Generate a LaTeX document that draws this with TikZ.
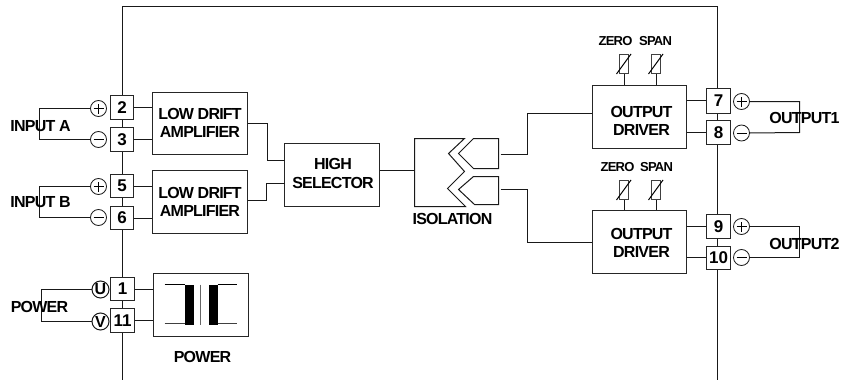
\documentclass[tikz,border=0pt]{standalone}
\usepackage{fontspec}
\setmainfont{Liberation Sans}
\newfontfamily\tightb{Liberation Sans}[LetterSpace=-4.8]
\newfontfamily\tightc{Liberation Sans}[LetterSpace=-6]
\tikzset{
  wire/.style={draw=black!90,line width=1pt},
  blockbox/.style={draw=black!85,line width=1pt,fill=white,inner sep=0pt},
  termbox/.style={draw=black!85,line width=1pt,fill=white,inner sep=0pt,font=\fontsize{17}{17}\selectfont\bfseries},
  polar/.style={circle,draw=black!90,line width=0.8pt,fill=white,inner sep=0pt,minimum size=16pt},
  polarb/.style={polar,minimum size=17pt,line width=1pt,font=\fontsize{16}{16}\tightc\selectfont\bfseries},
  lab/.style={inner sep=0pt,align=center,font=\fontsize{16}{18.5}\tightb\selectfont\bfseries},
  small/.style={inner sep=0pt,font=\fontsize{13}{13}\tightc\selectfont\bfseries},
}
\newcommand{\blk}[5]{\node[blockbox,minimum width=#3 pt-#2 pt,minimum height=#5 pt-#4 pt] (#1) at ({(#2+#3)/2},{(#4+#5)/2}) {};}
\newcommand{\trm}[6]{\node[termbox,minimum width=#4 pt-#3 pt,minimum height=#6 pt-#5 pt] (#1) at ({(#3+#4)/2},{(#5+#6)/2}) {#2};}
\begin{document}
\begin{tikzpicture}[x=1pt,y=-1pt]
\useasboundingbox (0,0) rectangle (844,380);
\begin{scope}[shift={(0.5,0.5)}]
\coordinate (fbl) at (122,380); \coordinate (ftl) at (122,6);
\coordinate (ftr) at (717,6); \coordinate (fbr) at (717,380);
\draw[wire] (fbl) -- (ftl) -- (ftr) -- (fbr);
% terminals
\trm{t2}{2}{110}{133}{95}{119}
\trm{t3}{3}{110}{133}{127}{151}
\trm{t5}{5}{110}{133}{174}{197}
\trm{t6}{6}{110}{133}{206}{229}
\trm{t1}{1}{110}{134}{277}{300}
\trm{t11}{11}{110}{134}{308}{332}
\trm{t7}{7}{706}{730}{88}{113}
\trm{t8}{8}{706}{730}{120}{144}
\trm{t9}{9}{706}{730}{214}{238}
\trm{t10}{10}{706}{730}{246}{269}
% blocks
\blk{amp1}{152}{247}{92}{154}
\blk{amp2}{152}{247}{170}{233}
\blk{sel}{284}{379}{143}{206}
\blk{drv1}{592}{686}{85}{148}
\blk{drv2}{592}{686}{210}{273}
\blk{pwr}{153}{248}{273}{336}
% polarity circles
\node[polar] (ip1) at (98,108) {}; \node[polar] (im1) at (98,139) {};
\node[polar] (ip2) at (98,186) {}; \node[polar] (im2) at (98,217) {};
\node[polar] (op1) at (741,101) {}; \node[polar] (om1) at (741,132.5) {};
\node[polar] (op2) at (741,226) {}; \node[polar] (om2) at (741,257) {};
\foreach \n in {ip1,ip2,op1,op2} {
  \draw[line width=0.6pt] ([xshift=-5pt]\n.center) -- ([xshift=5pt]\n.center);
  \draw[line width=0.6pt] ([yshift=-5pt]\n.center) -- ([yshift=5pt]\n.center);}
\foreach \n in {im1,im2,om1,om2} {
  \draw[line width=0.6pt] ([xshift=-5pt]\n.center) -- ([xshift=5pt]\n.center);}
\node[polarb] (pu) at (100,289) {U};
\node[polarb] (pv) at (100,321) {V};
% bracket corners
\coordinate (b1a) at (39,108); \coordinate (b1b) at (39,139);
\coordinate (b2a) at (39,186); \coordinate (b2b) at (39,217);
\coordinate (b3a) at (41,289); \coordinate (b3b) at (41,321);
\coordinate (b4a) at (799,100); \coordinate (b4b) at (799,132);
\coordinate (b5a) at (799,226); \coordinate (b5b) at (799,257);
\draw[wire] (ip1) -- (b1a) -- (b1b) -- (im1);
\draw[wire] (ip2) -- (b2a) -- (b2b) -- (im2);
\draw[wire] (pu) -- (b3a) -- (b3b) -- (pv);
\draw[wire] (op1.east) -- (op1.east -| b4a) -- (b4b) -- (om1.east);
\draw[wire] (op2) -- (b5a) -- (b5b) -- (om2);
% terminal to block
\draw[wire] (t2.east) -- (t2.east -| amp1.west);
\draw[wire] (t3.east) -- (t3.east -| amp1.west);
\draw[wire] (t5.east) -- (t5.east -| amp2.west);
\draw[wire] (t6.east) -- (t6.east -| amp2.west);
\draw[wire] (t1.east) -- (t1.east -| pwr.west);
\draw[wire] (t11.east) -- (t11.east -| pwr.west);
\coordinate (d1u) at (686,100); \coordinate (d1l) at (686,132);
\coordinate (d2u) at (686,226); \coordinate (d2l) at (686,257);
\draw[wire] (d1u) -- (d1u -| t7.west);
\draw[wire] (d1l) -- (d1l -| t8.west);
\draw[wire] (d2u) -- (d2u -| t9.west);
\draw[wire] (d2l) -- (d2l -| t10.west);
% amp to selector
\coordinate (a1o) at (247,123); \coordinate (s1i) at (284,160);
\coordinate (a2o) at (247,200); \coordinate (s2i) at (284,183);
\draw[wire] (a1o) -- (267,123) -- (267,160) -- (s1i);
\draw[wire] (a2o) -- (266,200) -- (266,183) -- (s2i);
% isolation
\coordinate (isoin) at (414,170);
\draw[wire] (sel.east |- isoin) -- (isoin);
\draw[wire] (464,138) -- (414,138) -- (414,206) -- (465,206) -- (447,188) -- (464,171) -- (448,153) -- cycle;
\draw[wire] (473,138) -- (498,138) -- (498,168) -- (473,168) -- (458,153) -- cycle;
\draw[wire] (473,176) -- (498,176) -- (498,204) -- (474,204) -- (458,189) -- cycle;
\coordinate (iso1) at (500,154); \coordinate (iso2) at (500,189);
\draw[wire] (iso1) -- (527,154) -- (527,113) -- (drv1.west |- 0,113);
\draw[wire] (iso2) -- (527,189) -- (527,242) -- (drv2.west |- 0,242);
% pots
\foreach \nm/\xa/\ya/\dn in {p1/619/54/drv1,p2/651/54/drv1,p3/619/180/drv2,p4/651/180/drv2} {
  \node[draw=black!75,line width=0.8pt,inner sep=0pt,minimum width=9pt,minimum height=19pt] (\nm) at (\xa+4.5,\ya+9.5) {};
  \draw[wire] (\nm.south) -- (\nm.south |- \dn.north);
  \draw[line width=1pt] (\xa-3,\ya+19.5) -- (\xa+11.5,\ya-0.5);
}
% transformer
\fill (184,284) rectangle (193,324);
\fill (208,284) rectangle (217,324);
\draw[line width=1pt] (164,284) -- (184,284) (217,284) -- (236,284);
\draw[line width=1pt,black!75] (164,323) -- (184,323) (217,323) -- (236,323);
\draw[line width=1pt,black!60] (200,284) -- (200,324);
% labels
\node[lab] (tamp1) at (199.5,122.5) {LOW DRIFT\\AMPLIFIER};
\node[lab] (tamp2) at (199.5,201.5) {LOW DRIFT\\AMPLIFIER};
\node[lab] (tsel) at (332.5,173) {HIGH\\SELECTOR};
\node[lab] (tdrv1) at (641,120.5) {OUTPUT\\DRIVER};
\node[lab] (tdrv2) at (641,242.5) {OUTPUT\\DRIVER};
\node[lab] (linA) at (40,125.5) {INPUT A};
\node[lab] (linB) at (40,202) {INPUT B};
\node[lab] (lpw) at (39,306) {POWER};
\node[lab] (lpw2) at (202,356) {POWER};
\node[lab] (liso) at (452,218) {ISOLATION};
\node[lab] (lo1) at (804,117) {OUTPUT1};
\node[lab] (lo2) at (804,243) {OUTPUT2};
\node[small] (z1) at (615,41) {ZERO};
\node[small] (s1) at (655,41) {SPAN};
\node[small] (z2) at (617,167) {ZERO};
\node[small] (s2) at (656,167) {SPAN};
\end{scope}
\end{tikzpicture}
\end{document}
